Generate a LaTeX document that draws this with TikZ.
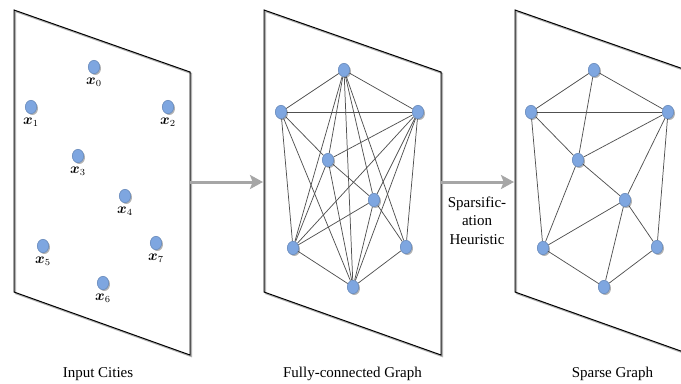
\documentclass[tikz,border=0pt]{standalone}
\usepackage{amsmath}
\usepackage{fontspec}
\setmainfont{Liberation Serif}
\usetikzlibrary{shapes.geometric,shadows,arrows.meta}
\pgfdeclarelayer{bg}
\pgfdeclarelayer{edges}
\pgfsetlayers{bg,edges,main}
\definecolor{cityfill}{HTML}{7EA6E0}
\definecolor{cityline}{HTML}{6C8EBF}
\definecolor{arrowgray}{HTML}{A6A6A6}
\definecolor{edgegray}{HTML}{505050}
\tikzset{
  city/.style={ellipse, minimum width=8.5pt, minimum height=10pt, inner sep=0pt,
    fill=cityfill, draw=cityline, line width=0.5pt,
    drop shadow={shadow xshift=1pt, shadow yshift=-1pt, fill=black, opacity=0.3}},
  citylabel/.style={label={[inner sep=0pt,label distance=3pt,font=\fontsize{10.5pt}{12pt}\selectfont]below:$\boldsymbol{x}_{#1}$}},
  gedge/.style={draw=edgegray, line width=0.55pt},
  panelline/.style={draw=black, line width=0.75pt, line join=miter},
  panelshadow/.style={draw=black!30, line width=1pt, line join=miter},
  flow/.style={draw=arrowgray, line width=2.25pt, -{Stealth[length=9.75pt,width=10.5pt,inset=2pt]}},
  caption/.style={font=\fontsize{11.25pt}{13.9pt}\selectfont, inner sep=0pt, anchor=base},
}
\begin{document}
\begin{tikzpicture}[x=0.75pt,y=-0.75pt]
\useasboundingbox (0,0) rectangle (681,383);
\clip (0,0) rectangle (681,383);

% panels
\begin{pgfonlayer}{bg}
  \draw[panelshadow] (15.5,11.5) -- (191.5,73.5) -- (191.5,356.5) -- (15.5,293.5) -- cycle;
  \draw[panelline] (14,10) -- (190,72) -- (190,355) -- (14,292) -- cycle;
  \draw[panelshadow] (265.5,11.5) -- (442.5,73.5) -- (442.5,356.5) -- (265.5,293.5) -- cycle;
  \draw[panelline] (264,10) -- (441,72) -- (441,355) -- (264,292) -- cycle;
  \draw[panelshadow] (516.5,11.5) -- (693.5,73.5) -- (693.5,356.5) -- (516.5,293.5) -- cycle;
  \draw[panelline] (515,10) -- (692,72) -- (692,355) -- (515,292) -- cycle;
\end{pgfonlayer}

% panel 1: input cities
\node[city,citylabel=0] (a0) at (94,67) {};
\node[city,citylabel=1] (a1) at (31,107) {};
\node[city,citylabel=2] (a2) at (168,107) {};
\node[city,citylabel=3] (a3) at (78,156) {};
\node[city,citylabel=4] (a4) at (125,196) {};
\node[city,citylabel=5] (a5) at (43,246) {};
\node[city,citylabel=6] (a6) at (103,283) {};
\node[city,citylabel=7] (a7) at (156,243) {};

% panel 2: fully-connected graph
\node[city] (b0) at (344,70) {};
\node[city] (b1) at (281,112) {};
\node[city] (b2) at (418,112) {};
\node[city] (b3) at (328,160) {};
\node[city] (b4) at (374,200) {};
\node[city] (b5) at (293,248) {};
\node[city] (b6) at (353,287) {};
\node[city] (b7) at (406,247) {};

% panel 3: sparse graph
\node[city] (c0) at (594,70) {};
\node[city] (c1) at (531,112) {};
\node[city] (c2) at (668,112) {};
\node[city] (c3) at (578,160) {};
\node[city] (c4) at (625,200) {};
\node[city] (c5) at (543,248) {};
\node[city] (c6) at (604,287) {};
\node[city] (c7) at (657,247) {};

\begin{pgfonlayer}{edges}
  \foreach \i/\j in {0/1,0/2,0/3,0/4,0/5,0/6,0/7,1/2,1/3,1/5,1/6,2/3,2/4,2/5,2/6,2/7,3/4,3/5,3/6,4/5,4/6,4/7,5/6,6/7}
    \draw[gedge] (b\i) -- (b\j);
  \foreach \i/\j in {0/1,0/2,0/3,1/2,1/3,1/5,2/3,2/4,2/7,3/4,3/5,4/5,4/6,4/7,5/6,6/7}
    \draw[gedge] (c\i) -- (c\j);
\end{pgfonlayer}

% flow arrows
\coordinate (p1r) at (190,182);
\coordinate (p2l) at (263,182);
\coordinate (p2r) at (441,182);
\coordinate (p3l) at (514,182);
\draw[flow] (p1r) -- (p2l);
\draw[flow] (p2r) -- (p3l);

\node[font=\fontsize{11.25pt}{13.9pt}\selectfont, align=center, inner sep=0pt, anchor=north] (heur) at (477,196.5) {Sparsific-\\ation\\Heuristic};

% captions
\node[caption] (cap1) at (98,377) {Input Cities};
\node[caption] (cap2) at (352.5,377) {Fully-connected Graph};
\node[caption] (cap3) at (612.5,377) {Sparse Graph};
\end{tikzpicture}
\end{document}
